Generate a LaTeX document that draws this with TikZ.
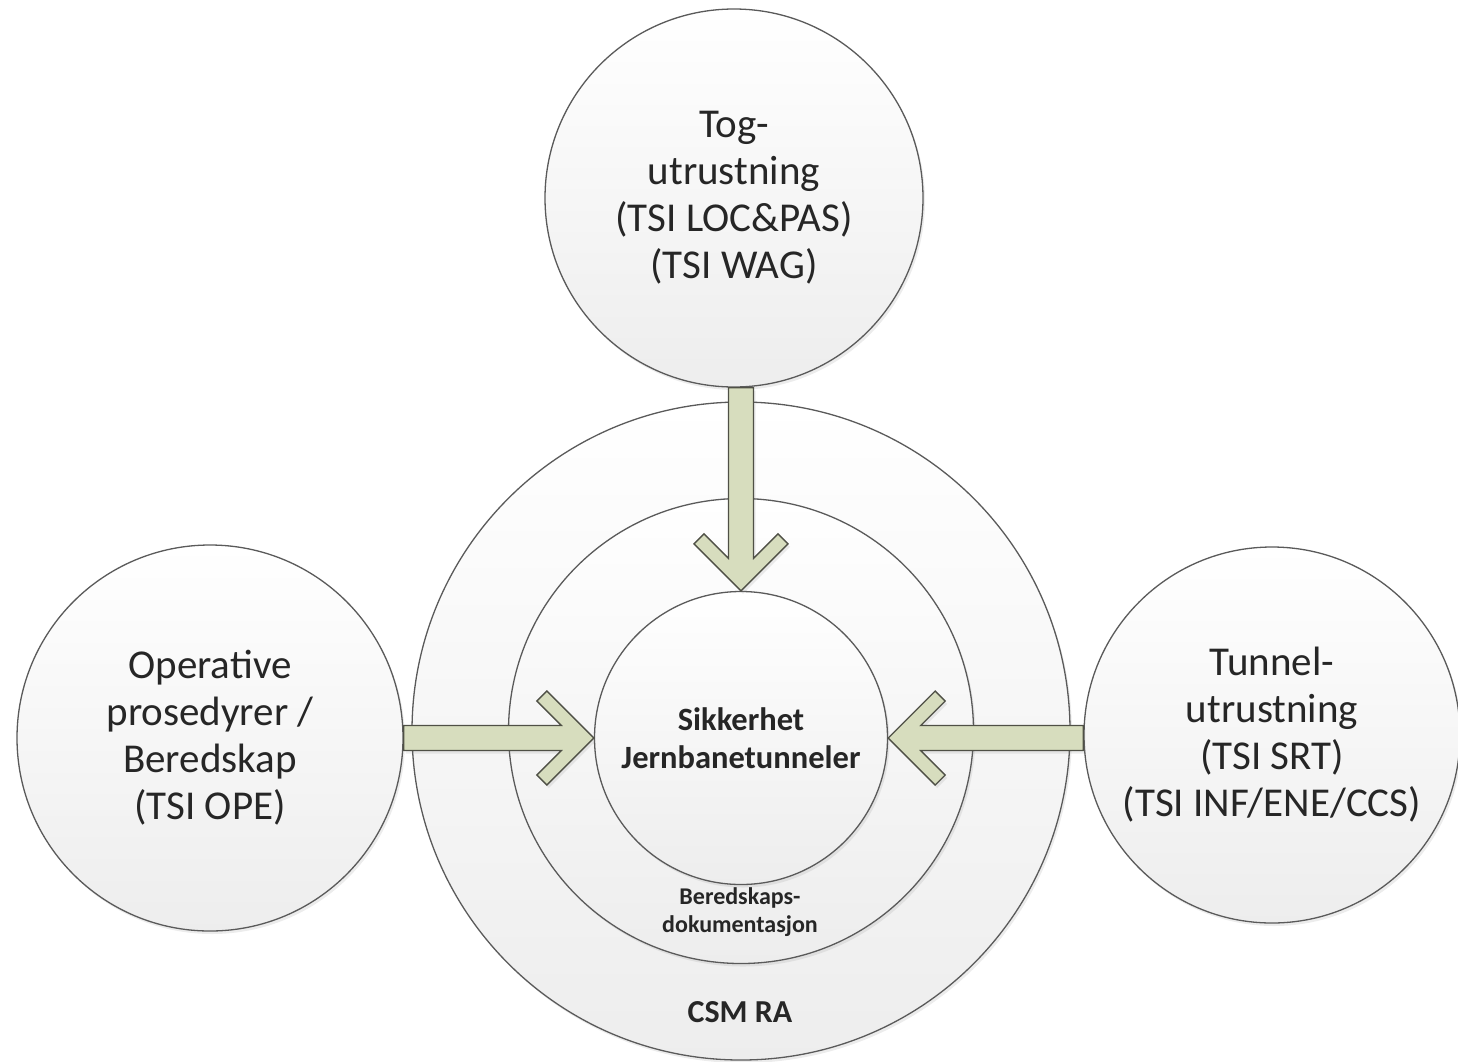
\documentclass[tikz,border=0pt]{standalone}
\usepackage{fontspec}
\setmainfont{Carlito}
\usetikzlibrary{calc,shadows}
\definecolor{linec}{HTML}{5A5A5A}
\definecolor{arrowfill}{HTML}{D7DDBE}
\definecolor{arrowline}{HTML}{4F5046}
\definecolor{txt}{HTML}{262626}
\begin{document}
\begin{tikzpicture}[x=1pt,y=-1pt,
  disc/.style={circle, draw=linec, line width=1.3pt, top color=white, bottom color=black!7,
    inner sep=0pt, text=txt, align=center,
    drop shadow={opacity=0.15, shadow xshift=2pt, shadow yshift=-3pt}},
  bigtext/.style={font=\fontsize{41}{47}\selectfont},
  barrow/.style={draw=arrowline, fill=arrowfill, line width=1.3pt, line join=miter,
    drop shadow={opacity=0.15, shadow xshift=2pt, shadow yshift=-3pt}}
]
\useasboundingbox (0,0) rectangle (1458,1061);
\node[disc, minimum size=658pt] (O) at (741,731) {};
\node[disc, minimum size=465pt] (M) at (741,731) {};
\node[disc, minimum size=293pt, font=\bfseries\fontsize{32.5}{38}\selectfont] (I) at (741,738) {Sikkerhet\\Jernbanetunneler};
\node[disc, minimum size=378pt, bigtext] (T) at (734,198) {Tog-\\utrustning\\(TSI LOC\&PAS)\\(TSI WAG)};
\node[disc, minimum size=386pt, bigtext] (L) at (210,738) {Operative\\prosedyrer /\\Beredskap\\(TSI OPE)};
\node[disc, minimum size=376pt, bigtext] (R) at (1272,735) {Tunnel-\\utrustning\\(TSI SRT)\\(TSI INF/ENE/CCS)};
\node[font=\bfseries\fontsize{24}{28}\selectfont, text=txt, align=center] (B) at (740,912) {Beredskaps-\\dokumentasjon};
\node[font=\bfseries\fontsize{32}{36}\selectfont, text=txt, anchor=base] (C) at (740,1022) {CSM RA};
% arrows
\draw[barrow] (I.north) -- ++(-47,-47) -- ++(10,-10) -- ($(I.north)+(-12.5,-32.5)$)
  -- ($(I.north |- T.south)+(-12.5,0)$) -- ($(I.north |- T.south)+(12.5,0)$)
  -- ($(I.north)+(12.5,-32.5)$) -- ($(I.north)+(37,-57)$) -- ($(I.north)+(47,-47)$) -- cycle;
\draw[barrow] (I.west) -- ++(-47,-47) -- ++(-10,10) -- ($(I.west)+(-32.5,-12.5)$)
  -- ($(L.east |- I.west)+(0,-12.5)$) -- ($(L.east |- I.west)+(0,12.5)$)
  -- ($(I.west)+(-32.5,12.5)$) -- ($(I.west)+(-57,37)$) -- ($(I.west)+(-47,47)$) -- cycle;
\draw[barrow] (I.east) -- ++(47,-47) -- ++(10,10) -- ($(I.east)+(32.5,-12.5)$)
  -- ($(R.west |- I.east)+(0,-12.5)$) -- ($(R.west |- I.east)+(0,12.5)$)
  -- ($(I.east)+(32.5,12.5)$) -- ($(I.east)+(57,37)$) -- ($(I.east)+(47,47)$) -- cycle;
\end{tikzpicture}
\end{document}
